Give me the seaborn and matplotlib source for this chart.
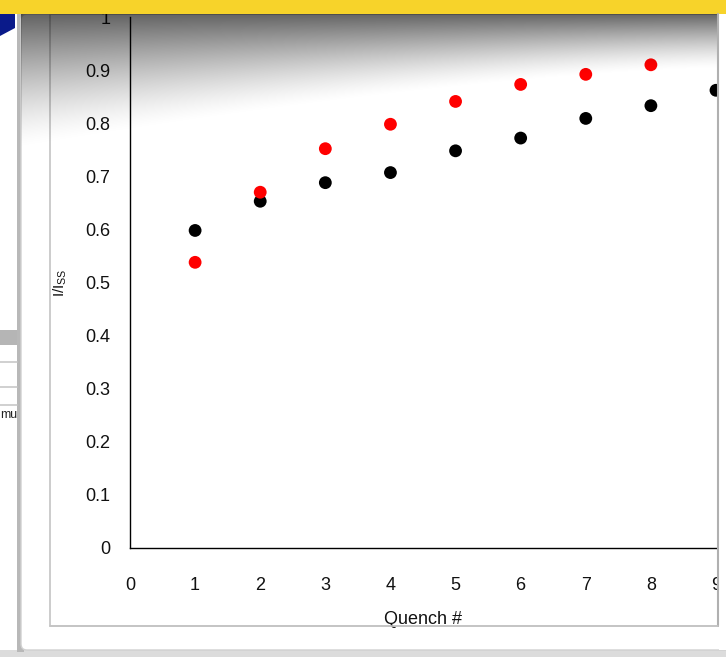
import numpy as np
import pandas as pd
import matplotlib
matplotlib.use('Agg')
import matplotlib.pyplot as plt
from matplotlib.patches import Rectangle, FancyBboxPatch
import seaborn as sns

# data
quench = [1, 2, 3, 4, 5, 6, 7, 8, 9]
black_vals = [0.598, 0.653, 0.688, 0.707, 0.748, 0.772, 0.809, 0.833, 0.862]
red_quench = [1, 2, 3, 4, 5, 6, 7, 8]
red_vals = [0.538, 0.670, 0.752, 0.798, 0.841, 0.873, 0.892, 0.910]

df = pd.concat([
    pd.DataFrame({'Quench #': quench, 'I/Iss': black_vals, 'series': 'black'}),
    pd.DataFrame({'Quench #': red_quench, 'I/Iss': red_vals, 'series': 'red'}),
])

sns.set_style('white')
plt.rcParams['font.family'] = ['Liberation Sans', 'DejaVu Sans']

W, H = 726, 657
fig = plt.figure(figsize=(W / 100, H / 100), dpi=100)
fig.patch.set_facecolor('white')

def fx(p):
    return p / W

def fy(p):
    return 1 - p / H

# background decoration (window behind the chart)
bg = fig.add_axes([0, 0, 1, 1], zorder=0)
bg.set_axis_off()
bg.set_xlim(0, W)
bg.set_ylim(H, 0)
bg.add_patch(Rectangle((0, 650), W, 10, facecolor='#dcdcdc', edgecolor='none'))
bg.add_patch(Rectangle((0, 330), 17, 15, facecolor='#b5b5b5', edgecolor='none'))
for yy in [362, 387, 405]:
    bg.plot([0, 17], [yy, yy], color='#c8c8c8', lw=1.2)
bg.text(0, 415, 'mu', fontsize=9, va='center', ha='left', color='#222222')
bg.add_patch(plt.Polygon([(0, 14), (15, 14), (15, 28), (0, 36)], closed=True,
                         facecolor='#0a1a8a', edgecolor='none'))
# white panel with shaded left edge
bg.add_patch(Rectangle((17, 14), 7, 638, facecolor='#b8b8b8', edgecolor='none'))
bg.add_patch(FancyBboxPatch((21, 14), 720, 636, boxstyle='round,pad=0,rounding_size=6',
                            facecolor='white', edgecolor='#d0d0d0', lw=1))
# chart area border
bg.add_patch(Rectangle((50, 14), 668, 612, facecolor='none', edgecolor='#c4c4c4', lw=1.2))

ax = fig.add_axes([fx(130), fy(548), fx(716 - 130), (548 - 17) / H], zorder=5)
ax.set_facecolor('none')
sns.scatterplot(data=df, x='Quench #', y='I/Iss', hue='series',
                palette={'black': '#000000', 'red': '#ff0000'},
                s=85, edgecolor='none', legend=False, ax=ax, zorder=5, clip_on=False)

ax.set_xlim(0, 9)
ax.set_ylim(0, 1)
ax.set_xticks(range(0, 10))
ax.set_yticks(np.arange(0, 1.01, 0.1))
ax.set_yticklabels(['0'] + [f'{v:.1f}' for v in np.arange(0.1, 0.95, 0.1)] + ['1'])
ax.tick_params(axis='both', direction='out', length=5, width=1, color='black',
               labelsize=13, labelcolor='#111111', pad=9)
ax.tick_params(axis='x', pad=16)
for side in ['left', 'bottom']:
    ax.spines[side].set_color('black')
    ax.spines[side].set_linewidth(1)
ax.spines['top'].set_visible(False)
ax.spines['right'].set_visible(False)
ax.set_xlabel('Quench #', fontsize=13, color='#111111', labelpad=12)
ax.set_ylabel('')
fig.text(fx(60), fy(283), 'I/I$\\mathregular{_{SS}}$', rotation=90, fontsize=11,
         ha='center', va='center', color='#111111', zorder=6)

# shadow cast on the top of the chart
sh = fig.add_axes([fx(21), fy(160), 1 - fx(21), (160 - 13) / H], zorder=10)
sh.set_axis_off()
yy, xx = np.mgrid[0:1:200j, 0:1:400j]
depth = 0.38 + 0.55 * (1 - xx) ** 1.5
alpha = np.clip(1 - yy / depth, 0, 1) ** 1.4 * 0.62
img = np.zeros((200, 400, 4))
img[..., 3] = alpha
sh.imshow(img, aspect='auto', extent=[0, 1, 1, 0], interpolation='bilinear')
sh.set_xlim(0, 1)
sh.set_ylim(1, 0)

# cover right edge past the chart border and the bottom strip
over = fig.add_axes([0, 0, 1, 1], zorder=20)
over.set_axis_off()
over.set_xlim(0, W)
over.set_ylim(H, 0)
over.add_patch(Rectangle((719, 13), 8, 637, facecolor='white', edgecolor='none'))
over.plot([718, 718], [14, 626], color='#b0b0b0', lw=1.5)
over.add_patch(Rectangle((50, 628), 668, 6, facecolor='white', edgecolor='none'))
over.plot([50, 718], [626, 626], color='#c4c4c4', lw=1.2)
# yellow band at the top
over.add_patch(Rectangle((0, 0), W, 13.5, facecolor='#f7d32a', edgecolor='none'))

fig.savefig('out.png', dpi=100)
